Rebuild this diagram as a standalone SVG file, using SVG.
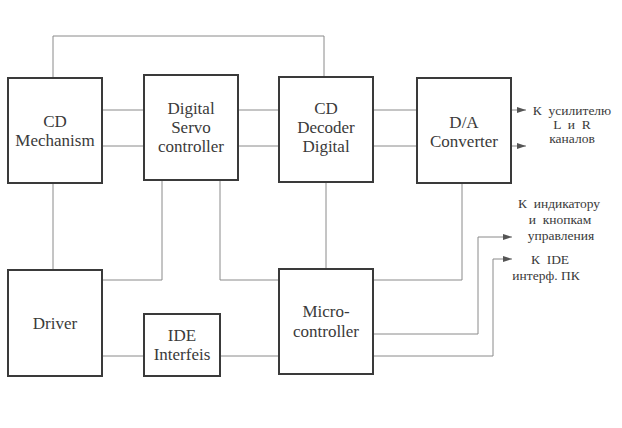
<svg xmlns="http://www.w3.org/2000/svg" width="622" height="428" viewBox="0 0 622 428">
<defs>
<style>
.box{fill:#fff;stroke:#3a3a3a;stroke-width:2}
.t{font-size:17px;fill:#3a3a3a;text-anchor:middle}
.s{font-size:13.5px;fill:#3a3a3a;text-anchor:middle;white-space:pre}
.w{fill:none;stroke:#8a8a8a;stroke-width:1}
</style>
<marker id="ah" markerWidth="9" markerHeight="6" refX="9" refY="3" orient="auto" markerUnits="userSpaceOnUse">
<path d="M0,0 L9,3 L0,6 Z" fill="#555"/>
</marker>
</defs>
<rect width="622" height="428" fill="#fff"/>
<g id="connectors">
<path class="w" d="M53,78 V36 H324 V77"/>
<path class="w" d="M102,110 H144 M102,146 H144"/>
<path class="w" d="M238,110 H279 M238,146 H279"/>
<path class="w" d="M373,110 H417 M373,146 H417"/>
<path class="w" d="M511,110 H526" marker-end="url(#ah)"/>
<path class="w" d="M511,146 H526" marker-end="url(#ah)"/>
<path class="w" d="M53,183 V270"/>
<path class="w" d="M162,180 V280 H102"/>
<path class="w" d="M220,180 V280 H279"/>
<path class="w" d="M326,182 V269"/>
<path class="w" d="M462,183 V280 H373"/>
<path class="w" d="M102,356 H144 M220,356 H279"/>
<path class="w" d="M373,334 H478 V237 H512" marker-end="url(#ah)"/>
<path class="w" d="M373,356 H493 V259 H512" marker-end="url(#ah)"/>
</g>
<g font-family="Liberation Serif, DejaVu Serif, serif">
<g id="cd-mechanism">
<rect class="box" x="8" y="78" width="94" height="105"/>
<text class="t" x="55" y="127">CD</text>
<text class="t" x="55" y="146">Mechanism</text>
</g>
<g id="digital-servo">
<rect class="box" x="144" y="75" width="94" height="105"/>
<text class="t" x="191" y="114">Digital</text>
<text class="t" x="191" y="133">Servo</text>
<text class="t" x="191" y="152">controller</text>
</g>
<g id="cd-decoder">
<rect class="box" x="279" y="77" width="94" height="105"/>
<text class="t" x="326" y="114">CD</text>
<text class="t" x="326" y="133">Decoder</text>
<text class="t" x="326" y="152">Digital</text>
</g>
<g id="da-converter">
<rect class="box" x="417" y="78" width="94" height="105"/>
<text class="t" x="464" y="128">D/A</text>
<text class="t" x="464" y="147">Converter</text>
</g>
<g id="driver">
<rect class="box" x="8" y="270" width="94" height="106"/>
<text class="t" x="55" y="329">Driver</text>
</g>
<g id="ide-interfeis">
<rect class="box" x="144" y="314" width="76" height="62"/>
<text class="t" x="182" y="341">IDE</text>
<text class="t" x="182" y="360">Interfeis</text>
</g>
<g id="microcontroller">
<rect class="box" x="279" y="269" width="94" height="105"/>
<text class="t" x="326" y="317">Micro-</text>
<text class="t" x="326" y="337">controller</text>
</g>
<g id="labels">
<text class="s" x="572" y="115">К  усилителю</text>
<text class="s" x="572" y="129">L  и  R</text>
<text class="s" x="572" y="143">каналов</text>
<text class="s" x="559" y="208">К  индикатору</text>
<text class="s" x="560" y="224">и  кнопкам</text>
<text class="s" x="561" y="240">управления</text>
<text class="s" x="550" y="264">К  IDE</text>
<text class="s" x="546" y="280">интерф. ПК</text>
</g>
</g>
</svg>
